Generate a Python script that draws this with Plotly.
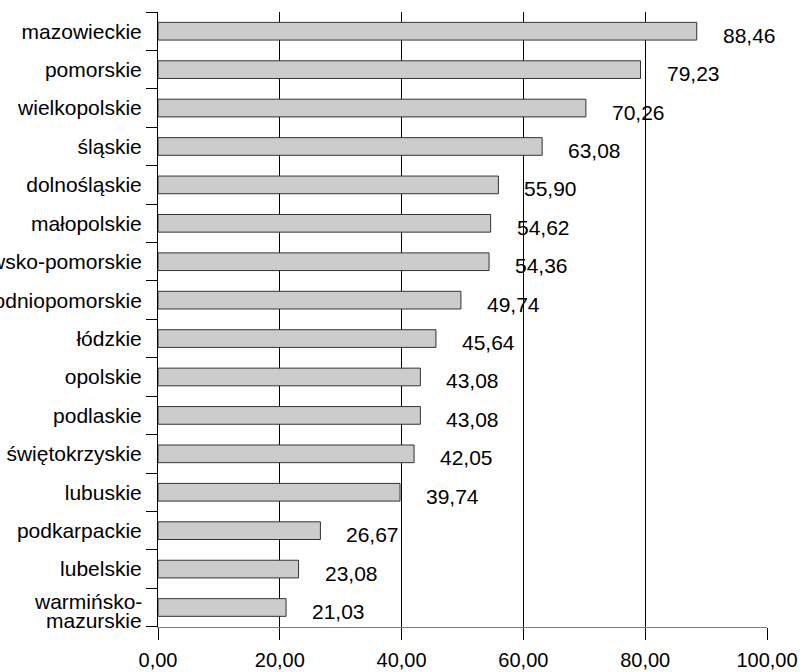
import plotly.graph_objects as go

regions = ["mazowieckie", "pomorskie", "wielkopolskie", "śląskie", "dolnośląskie",
           "małopolskie", "kujawsko-pomorskie", "zachodniopomorskie", "łódzkie",
           "opolskie", "podlaskie", "świętokrzyskie", "lubuskie", "podkarpackie",
           "lubelskie", "warmińsko-mazurskie"]
# tick label text (the last one is drawn as two tight lines separately)
tick_labels = ["mazowieckie", "pomorskie", "wielkopolskie", "śląskie", "dolnośląskie",
               "małopolskie", "kujawsko-pomorskie", "zachodniopomorskie", "łódzkie",
               "opolskie", "podlaskie", "świętokrzyskie", "lubuskie", "podkarpackie",
               "lubelskie", ""]
wrapped_label = ["warmińsko-", "mazurskie"]
values = [88.46, 79.23, 70.26, 63.08, 55.90, 54.62, 54.36, 49.74, 45.64,
          43.08, 43.08, 42.05, 39.74, 26.67, 23.08, 21.03]
x_ticks = [0, 20, 40, 60, 80, 100]

FONT = "Liberation Sans, Arial, sans-serif"

fig = go.Figure()
fig.add_trace(go.Bar(
    y=regions, x=values, orientation="h",
    marker=dict(color="#cccccc", line=dict(color="#333333", width=1)),
    hoverinfo="skip",
))

annotations = []
for r, v in zip(regions, values):
    annotations.append(dict(
        x=v, y=r, xref="x", yref="y", text=f"{v:.2f}".replace(".", ","),
        showarrow=False, xanchor="left", yanchor="middle",
        xshift=24, yshift=-4,
        font=dict(family=FONT, size=21, color="black"),
    ))

# two-line category label with tight line spacing
for line, shift in zip(wrapped_label, [6, -13]):
    annotations.append(dict(
        x=0, y=regions[-1], xref="paper", yref="y", text=line,
        showarrow=False, xanchor="right", yanchor="middle",
        xshift=-14, yshift=shift,
        font=dict(family=FONT, size=21, color="black"),
    ))

fig.update_layout(
    width=805, height=672,
    margin=dict(l=158, r=38, t=12, b=45),
    paper_bgcolor="white", plot_bgcolor="white",
    showlegend=False,
    bargap=0.54,
    separators=",.",
    font=dict(family=FONT, size=21, color="black"),
    annotations=annotations,
    xaxis=dict(
        range=[0, 100], tickvals=x_ticks, tickformat=".2f",
        showgrid=True, gridcolor="#000000", gridwidth=1,
        zeroline=False, showline=True, linecolor="#808080", linewidth=1,
        ticks="outside", ticklen=12, tickcolor="#000000",
        ticklabelstandoff=3,
        tickfont=dict(family=FONT, size=20, color="black"),
        automargin=False, fixedrange=True,
    ),
    yaxis=dict(
        categoryorder="array", categoryarray=regions, autorange="reversed",
        tickmode="array", tickvals=regions, ticktext=tick_labels,
        showgrid=False, zeroline=False, showline=True, linecolor="#000000", linewidth=1,
        ticks="outside", tickson="boundaries", ticklen=11, tickcolor="#000000",
        ticklabelstandoff=11,
        tickfont=dict(family=FONT, size=21, color="black"),
        automargin=False, fixedrange=True,
    ),
)

fig.write_html(
    "out.html",
    config={"displayModeBar": False},
    post_script="document.body.style.margin='0';document.body.style.overflow='hidden';",
)
